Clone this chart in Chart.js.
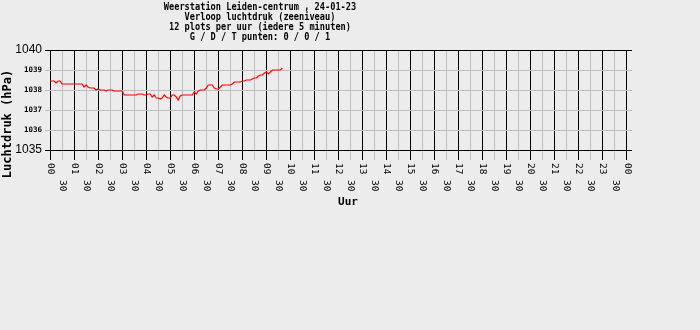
<!DOCTYPE html>
<html>
<head>
<meta charset="utf-8">
<script src="https://cdn.jsdelivr.net/npm/chart.js@4/dist/chart.umd.min.js"></script>
<style>
  html, body { margin: 0; padding: 0; background: #ececec; }
  #wrap { width: 700px; height: 330px; position: relative; }
</style>
</head>
<body>
<div id="wrap"><canvas id="c"></canvas></div>
<script>
// ---- Data ----
const titleLines = [
  'Weerstation Leiden-centrum , 24-01-23',
  'Verloop luchtdruk (zeeniveau)',
  '12 plots per uur (iedere 5 minuten)',
  'G / D / T punten: 0 / 0 / 1'
];
const yAxisTitle = 'Luchtdruk (hPa)';
const xAxisTitle = 'Uur';
const hourLabels = ['00','01','02','03','04','05','06','07','08','09','10','11',
                    '12','13','14','15','16','17','18','19','20','21','22','23','00'];
const halfHourLabel = '30';
const yTicks = [1035, 1036, 1037, 1038, 1039, 1040];
const minutesPerPlot = 5;
// air pressure (hPa), one value every 5 minutes from 00:00
const pressure = [
  1038.45, 1038.45, 1038.45, 1038.35, 1038.45, 1038.45,
  1038.3, 1038.3, 1038.3, 1038.3, 1038.3, 1038.3, 1038.3, 1038.3, 1038.3, 1038.3, 1038.3,
  1038.15, 1038.25, 1038.15, 1038.1, 1038.1, 1038.1, 1038.0, 1038.05, 1038.0, 1038.0, 1038.0,
  1037.95, 1038.0, 1038.0, 1038.0, 1037.95, 1037.95, 1037.95, 1037.95, 1037.95,
  1037.75, 1037.75, 1037.75, 1037.75, 1037.75, 1037.75, 1037.75,
  1037.8, 1037.8, 1037.8, 1037.75, 1037.75, 1037.8, 1037.8, 1037.65, 1037.75, 1037.6,
  1037.6, 1037.55, 1037.6, 1037.75, 1037.65, 1037.6, 1037.6, 1037.75, 1037.75, 1037.65,
  1037.5, 1037.7, 1037.75, 1037.75, 1037.75, 1037.75, 1037.75, 1037.75,
  1037.9, 1037.8, 1037.95, 1038.0, 1038.0, 1038.0, 1038.1, 1038.25, 1038.25, 1038.25,
  1038.1, 1038.05, 1038.05, 1038.15, 1038.25, 1038.25, 1038.25, 1038.25, 1038.25,
  1038.3, 1038.4, 1038.4, 1038.4, 1038.4, 1038.45, 1038.45, 1038.5, 1038.5, 1038.5,
  1038.55, 1038.6, 1038.6, 1038.7, 1038.75, 1038.75, 1038.85, 1038.9, 1038.8, 1038.9,
  1039.0, 1039.0, 1039.0, 1039.0, 1039.0, 1039.1
];

// ---- Build chart ----
const points = pressure.map((v, i) => ({ x: i * minutesPerPlot / 60, y: v }));
const BLACK = '#000000';
const GREY = '#bebebe';

const bgPlugin = {
  id: 'bg',
  beforeDraw(chart) {
    const c = chart.ctx;
    c.save();
    c.fillStyle = '#ececec';
    c.fillRect(0, 0, chart.width, chart.height);
    c.restore();
  }
};

const textPlugin = {
  id: 'texts',
  afterDraw(chart) {
    const c = chart.ctx;
    const xs = chart.scales.x;
    const area = chart.chartArea;
    c.save();
    c.fillStyle = '#000';
    // main title
    c.font = 'bold 11px "DejaVu Sans Mono"';
    c.textAlign = 'center';
    c.textBaseline = 'middle';
    titleLines.forEach((t, k) => {
      c.save();
      c.translate(260, 7.5 + 10 * k);
      c.scale(0.785, 1);
      c.fillText(t, 0, 0);
      c.restore();
    });
    // x tick labels (rotated, reading top to bottom)
    c.font = '9.5px "DejaVu Sans Mono"';
    c.textAlign = 'left';
    c.textBaseline = 'middle';
    xs.ticks.forEach(t => {
      const px = xs.getPixelForValue(t.value);
      const isHour = Math.abs(t.value - Math.round(t.value)) < 1e-6;
      const label = isHour ? hourLabels[Math.round(t.value)] : halfHourLabel;
      c.save();
      c.translate(px, isHour ? area.bottom + 13 : area.bottom + 30);
      c.rotate(Math.PI / 2);
      c.fillText(label, 0, 0);
      c.restore();
    });
    // axis titles
    c.font = 'bold 11px "DejaVu Sans Mono"';
    c.textAlign = 'center';
    c.fillText(xAxisTitle, 348, 202);
    c.font = 'bold 12px "DejaVu Sans Mono"';
    c.save();
    c.translate(8, 124);
    c.rotate(-Math.PI / 2);
    c.fillText(yAxisTitle, 0, 0);
    c.restore();
    c.restore();
  }
};

const margin = 5 / 24.04; // hours of empty space at each side of the plot
new Chart(document.getElementById('c'), {
  type: 'line',
  data: {
    datasets: [{
      data: points,
      borderColor: '#ff0000',
      borderWidth: 1.2,
      pointRadius: 0,
      tension: 0,
      fill: false
    }]
  },
  options: {
    responsive: true,
    maintainAspectRatio: false,
    animation: false,
    layout: { padding: { left: 0, right: 68, top: 50, bottom: 170 } },
    plugins: { legend: { display: false }, title: { display: false }, tooltip: { enabled: false } },
    scales: {
      x: {
        type: 'linear',
        min: -margin,
        max: 24 + margin,
        afterBuildTicks(scale) {
          scale.ticks = hourLabels.flatMap((h, k) => k < 24 ? [{ value: k }, { value: k + 0.5 }] : [{ value: k }]);
        },
        afterFit(scale) { scale.height = 10; },
        border: { display: false },
        grid: {
          color: ctx => (ctx.tick && Math.abs(ctx.tick.value % 1) < 1e-6) ? BLACK : GREY,
          lineWidth: 1,
          drawTicks: true,
          tickLength: 10
        },
        ticks: { display: false }
      },
      y: {
        min: yTicks[0],
        max: yTicks[yTicks.length - 1],
        afterBuildTicks(scale) { scale.ticks = yTicks.map(v => ({ value: v })); },
        afterFit(scale) { scale.width = 45; },
        border: { display: false },
        grid: {
          color: ctx => (ctx.tick && (ctx.tick.value === 1035 || ctx.tick.value === 1040)) ? BLACK : GREY,
          lineWidth: 1,
          drawTicks: false
        },
        ticks: {
          padding: 3,
          color: '#000',
          callback: v => String(v),
          font: ctx => (ctx.tick && (ctx.tick.value === 1035 || ctx.tick.value === 1040))
            ? { family: '"Liberation Sans"', size: 12 }
            : { family: '"DejaVu Sans Mono"', size: 7.5, weight: 'bold' }
        }
      }
    }
  },
  plugins: [bgPlugin, textPlugin]
});
</script>
</body>
</html>
